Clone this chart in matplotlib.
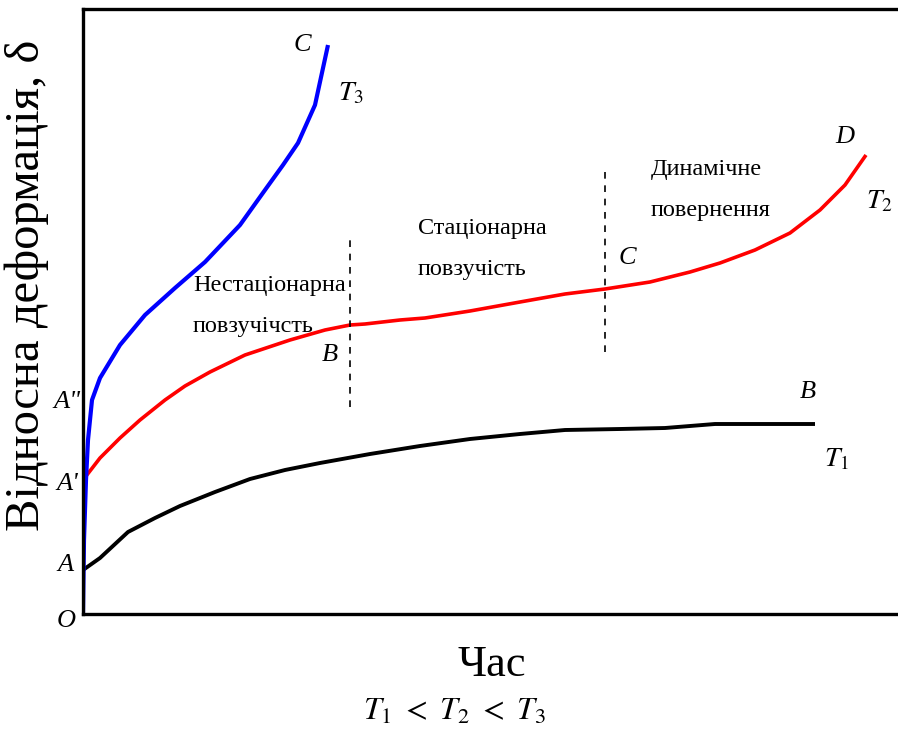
import numpy as np
import matplotlib
matplotlib.use('Agg')
import matplotlib.pyplot as plt

plt.rcParams['font.family'] = ['Liberation Serif', 'DejaVu Serif']
plt.rcParams['mathtext.fontset'] = 'stix'

# curves (time, deformation)
t3_x = [0, 1, 3, 5, 9, 17, 37, 62, 92, 122, 157, 182, 200, 215, 232, 245]
t3_y = [0, 74, 134, 174, 214, 236, 269, 299, 326, 352, 389, 424, 449, 471, 509, 569]

t2_x = [0, 0, 17, 37, 57, 82, 102, 127, 162, 207, 242, 267, 282, 317, 342, 387,
        437, 482, 522, 567, 607, 637, 672, 707, 737, 762, 783]
t2_y = [0, 134, 156, 176, 194, 214, 228, 242, 259, 274, 284, 289, 290, 294, 296, 303,
        312, 320, 325, 332, 342, 351, 364, 381, 404, 429, 459]

t1_x = [0, 17, 45, 72, 97, 132, 167, 202, 237, 287, 337, 387, 437, 482, 537, 582, 632, 677, 732]
t1_y = [44, 56, 82, 96, 108, 122, 135, 144, 151, 160, 168, 175, 180, 184, 185, 186, 190, 190, 190]

boundary_x = [267, 522]
boundary_y = [(207, 374), (262, 444)]

fig = plt.figure(figsize=(8.98, 7.31), dpi=100)
ax = fig.add_axes([83 / 898, 117 / 731, 815 / 898, 605 / 731])
ax.set_xlim(0, 815)
ax.set_ylim(0, 605)

ax.plot(t1_x, t1_y, color='black', lw=2.8, solid_capstyle='butt')
ax.plot(t2_x, t2_y, color='red', lw=2.6, solid_capstyle='butt')
ax.plot(t3_x, t3_y, color='blue', lw=3.0, solid_capstyle='butt')

for bx, (y0, y1) in zip(boundary_x, boundary_y):
    ax.plot([bx, bx], [y0, y1], color='black', lw=1.2, ls=(0, (4, 4)))

for s in ['left', 'bottom', 'top']:
    ax.spines[s].set_linewidth(2.4)
ax.spines['right'].set_visible(False)
ax.set_xticks([])
ax.set_yticks([])

ital = dict(fontsize=19, style='italic', ha='center', va='center')
ax.text(219, 569, 'C', **ital)
ax.text(762, 477, 'D', **ital)
ax.text(725, 222, 'B', **ital)
ax.text(544, 356, 'C', **ital)
ax.text(247, 259, 'B', **ital)

mt = dict(fontsize=20, ha='center', va='center')
ax.text(268, 520, r'$T_3$', **mt)
ax.text(796, 412, r'$T_2$', **mt)
ax.text(754, 154, r'$T_1$', **mt)

# labels on the left of the axis
fig.text(67 / 898, 1 - 402 / 731, 'A"', fontsize=19, style='italic', ha='center', va='center')
fig.text(67 / 898, 1 - 484 / 731, "A'", fontsize=19, style='italic', ha='center', va='center')
fig.text(66 / 898, 1 - 565 / 731, 'A', fontsize=19, style='italic', ha='center', va='center')
fig.text(66 / 898, 1 - 621 / 731, 'O', fontsize=19, style='italic', ha='center', va='center')

reg = dict(fontsize=17.5, ha='left', va='center', linespacing=2.2)
ax.text(110, 308, 'Нестаціонарна\nповзучічсть', **reg)
ax.text(335, 365, 'Стаціонарна\nповзучість', **reg)
ax.text(568, 424, 'Динамічне\nповернення', **reg)

fig.text(27 / 898, 1 - 285 / 731, 'Відносна деформація, δ', fontsize=35,
         rotation=90, ha='center', va='center')
fig.text(492 / 898, 1 - 665 / 731, 'Час', fontsize=32, ha='center', va='center')
fig.text(455 / 898, 1 - 712 / 731, r'$T_1\ <\ T_2\ <\ T_3$', fontsize=23, ha='center', va='center')

fig.savefig('out.png', dpi=100)
